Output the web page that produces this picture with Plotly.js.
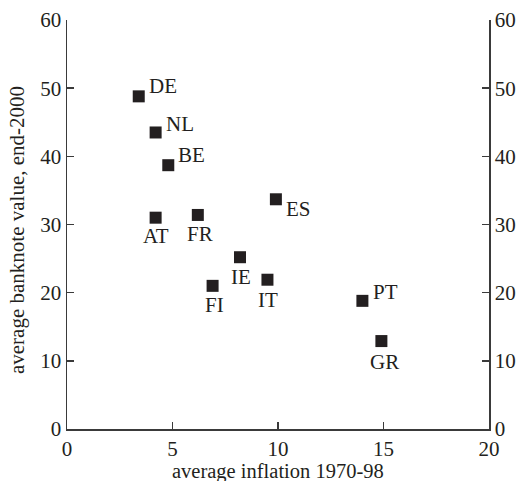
<!DOCTYPE html>
<html>
<head>
<meta charset="utf-8">
<script src="https://cdn.plot.ly/plotly-3.0.1.min.js"></script>
<style>html,body{margin:0;padding:0;background:#fff;}#chart{width:520px;height:481px;}</style>
</head>
<body>
<div id="chart"></div>
<script>
const countries = ["DE","NL","BE","AT","FR","ES","IE","FI","IT","PT","GR"];
const inflation = [3.4, 4.2, 4.8, 4.2, 6.2, 9.9, 8.2, 6.9, 9.5, 14.0, 14.9];
const banknoteValue = [48.8, 43.5, 38.7, 31.0, 31.4, 33.7, 25.2, 21.0, 21.9, 18.8, 12.9];
const yTicks = [0,10,20,30,40,50,60];
const xTicks = [0,5,10,15,20];

// label placement relative to its marker (pixels: right, down)
const labelOffsets = {
  DE: [24, -10], NL: [24, -8], BE: [23.5, -10], AT: [0.5, 18.5], FR: [2.5, 19],
  ES: [22.5, 10], IE: [1, 19.5], FI: [1.5, 19.5], IT: [1, 20], PT: [23, -9], GR: [3.5, 21]
};

const fontFam = "Liberation Serif, Times New Roman, serif";
const ink = "#231f20";
const lineCol = "#3a3a3a";

const trace = {
  x: inflation, y: banknoteValue,
  type: "scatter", mode: "markers",
  marker: {symbol: "square", size: 12, color: ink},
  cliponaxis: false, hoverinfo: "skip"
};
// invisible copy on the right-hand axis so that axis is drawn
const traceRight = {
  x: inflation, y: banknoteValue, yaxis: "y2",
  type: "scatter", mode: "markers",
  marker: {size: 1, opacity: 0}, hoverinfo: "skip", showlegend: false
};

const annotations = countries.map((c, i) => ({
  x: inflation[i], y: banknoteValue[i], xref: "x", yref: "y",
  text: c, showarrow: false, xanchor: "center", yanchor: "middle",
  xshift: labelOffsets[c][0], yshift: -labelOffsets[c][1],
  font: {family: fontFam, size: 21, color: ink}
}));
annotations.push({
  xref: "paper", yref: "paper", x: -0.118, y: 0.487,
  text: "average banknote value, end-2000", textangle: -90,
  showarrow: false, xanchor: "center", yanchor: "middle",
  font: {family: fontFam, size: 21, color: ink}
});
annotations.push({
  xref: "paper", yref: "paper", x: 0.5, y: -0.103,
  text: "average inflation 1970-98",
  showarrow: false, xanchor: "center", yanchor: "middle",
  font: {family: fontFam, size: 20.5, color: ink}
});

const axisCommon = {
  showgrid: false, zeroline: false, showline: true,
  linecolor: lineCol, linewidth: 1.5,
  ticks: "inside", ticklen: 7, tickwidth: 1.5, tickcolor: lineCol,
  tickfont: {family: fontFam, size: 21, color: ink}
};

const layout = {
  width: 520, height: 481,
  margin: {l: 67, r: 31, t: 20, b: 52},
  paper_bgcolor: "#fff", plot_bgcolor: "#fff",
  showlegend: false,
  annotations: annotations,
  xaxis: Object.assign({}, axisCommon, {
    range: [0, 20], tickvals: xTicks, ticktext: xTicks.map(String)
  }),
  yaxis: Object.assign({}, axisCommon, {
    range: [0, 60], tickvals: yTicks, ticktext: yTicks.map(String)
  }),
  yaxis2: Object.assign({}, axisCommon, {
    range: [0, 60], tickvals: yTicks, ticktext: yTicks.map(String),
    overlaying: "y", side: "right"
  })
};

Plotly.newPlot("chart", [trace, traceRight], layout, {displayModeBar: false, staticPlot: true});
</script>
</body>
</html>
